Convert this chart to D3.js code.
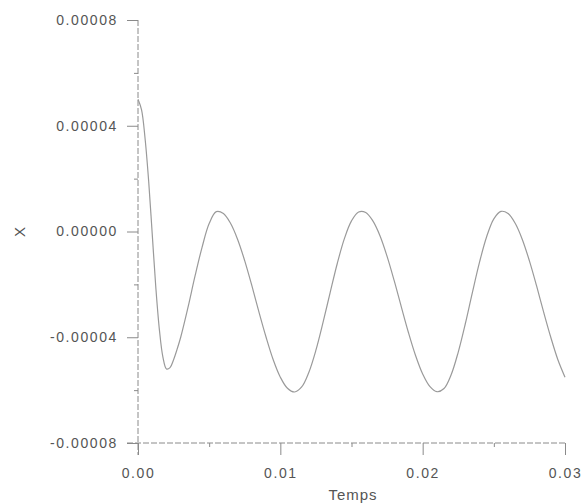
<!DOCTYPE html>
<html>
<head>
<meta charset="utf-8">
<script src="https://cdn.jsdelivr.net/npm/d3@7"></script>
<style>
  body { margin: 0; background: #fff; }
  .axis text { font-family: "Liberation Sans", Arial, sans-serif; font-size: 14px; fill: #555; letter-spacing: 1.6px; }
  .axisText { font-family: "Liberation Sans", Arial, sans-serif; font-size: 15px; fill: #555; letter-spacing: 1px; }
</style>
</head>
<body>
<div class="chart"></div>
<script>
// time (s)
var temps = [0, 0.00025, 0.0005, 0.00075, 0.001, 0.00125, 0.0015, 0.00175, 0.002, 0.00225,
  0.0025, 0.00275, 0.003, 0.0035, 0.004, 0.0045, 0.005, 0.0055,
  0.006, 0.0065, 0.007, 0.0075, 0.008, 0.0085, 0.009, 0.0095, 0.010, 0.0105, 0.011,
  0.0115, 0.012, 0.0125, 0.013, 0.0135, 0.014, 0.0145, 0.015, 0.0155,
  0.016, 0.0165, 0.017, 0.0175, 0.018, 0.0185, 0.019, 0.0195, 0.020, 0.0205, 0.021,
  0.0215, 0.022, 0.0225, 0.023, 0.0235, 0.024, 0.0245, 0.025, 0.0255,
  0.026, 0.0265, 0.027, 0.0275, 0.028, 0.0285, 0.029, 0.0295, 0.030];

// X values, in units of 1e-5
var xVals = [5.0, 4.6, 3.5, 1.9, -0.1, -2.1, -3.7, -4.75, -5.2, -5.15,
  -4.85, -4.45, -4.0, -2.9, -1.7, -0.6, 0.3, 0.75,
  0.68, 0.31, -0.30, -1.11, -2.05, -3.05, -4.00, -4.85, -5.51, -5.93, -6.07,
  -5.88, -5.33, -4.49, -3.44, -2.31, -1.21, -0.27, 0.40, 0.74,
  0.72, 0.40, -0.16, -0.94, -1.86, -2.85, -3.82, -4.69, -5.39, -5.86, -6.06,
  -5.94, -5.42, -4.56, -3.48, -2.29, -1.15, -0.19, 0.48, 0.76,
  0.68, 0.31, -0.30, -1.11, -2.05, -3.05, -4.00, -4.85, -5.51];
var unit = 1e-5;

var xTicks = [0, 0.01, 0.02, 0.03];
var xMinor = [0.005, 0.015, 0.025];
var yTicks = [-0.00008, -0.00004, 0, 0.00004, 0.00008];
var yMinor = [-0.00006, -0.00002, 0.00002, 0.00006];

var margin = {top: 20, right: 17, bottom: 60, left: 138},
    width = 582 - margin.left - margin.right,
    height = 503 - margin.top - margin.bottom;

var svg = d3.select(".chart")
  .append("svg")
    .attr("width", 582)
    .attr("height", 503)
  .append("g")
    .attr("transform", "translate(" + margin.left + "," + margin.top + ")");

var x = d3.scaleLinear().domain([0, 0.03]).range([0, width]);
var y = d3.scaleLinear().domain([-0.00008, 0.00008]).range([height, 0]);

var axisColor = "#8a8a8a";

// plain hyphen minus like the original
var fmtY = function(d) { return d3.format(".5f")(d).replace("\u2212", "-"); };

// minor ticks
svg.append("g")
  .attr("transform", "translate(0," + height + ")")
  .call(d3.axisBottom(x).tickValues(xMinor).tickSize(4).tickFormat(""))
  .call(function(g) { g.select(".domain").remove(); g.selectAll("line").attr("stroke", axisColor); });
svg.append("g")
  .call(d3.axisLeft(y).tickValues(yMinor).tickSize(4).tickFormat(""))
  .call(function(g) { g.select(".domain").remove(); g.selectAll("line").attr("stroke", axisColor); });

// X axis
svg.append("g")
  .attr("class", "axis")
  .attr("transform", "translate(0," + height + ")")
  .call(d3.axisBottom(x).tickValues(xTicks).tickSize(12).tickPadding(13).tickFormat(d3.format(".2f")))
  .call(function(g) {
    g.select(".domain").remove();
    g.selectAll("line").attr("stroke", axisColor);
  });

// Y axis
svg.append("g")
  .attr("class", "axis")
  .call(d3.axisLeft(y).tickValues(yTicks).tickSize(11).tickPadding(9).tickFormat(fmtY))
  .call(function(g) {
    g.select(".domain").remove();
    g.selectAll("line").attr("stroke", axisColor);
  });

// axis lines (dashed like the original)
svg.append("line")
  .attr("x1", x(0)).attr("x2", x(0))
  .attr("y1", 0).attr("y2", height + 12)
  .attr("stroke", axisColor).attr("stroke-width", 1)
  .attr("stroke-dasharray", "6,2");
svg.append("line")
  .attr("x1", x(0) - 11).attr("x2", x(0.03))
  .attr("y1", height).attr("y2", height)
  .attr("stroke", axisColor).attr("stroke-width", 1)
  .attr("stroke-dasharray", "6,2");

// curve
var data = temps.map(function(t, i) { return {t: t, v: xVals[i] * unit}; });
var line = d3.line()
  .x(function(d) { return x(d.t); })
  .y(function(d) { return y(d.v); })
  .curve(d3.curveCatmullRom);
svg.append("path")
  .datum(data)
  .attr("fill", "none")
  .attr("stroke", "#9a9a9a")
  .attr("stroke-width", 1.2)
  .attr("d", line);

// axis labels
svg.append("text")
  .attr("class", "axisText")
  .attr("transform", "translate(" + (20 - margin.left) + "," + y(0) + ") rotate(-90)")
  .attr("text-anchor", "middle")
  .attr("dy", "0.35em")
  .text("X");
svg.append("text")
  .attr("class", "axisText")
  .attr("text-anchor", "middle")
  .attr("x", 353 - margin.left)
  .attr("y", height + 57)
  .text("Temps");
</script>
</body>
</html>
